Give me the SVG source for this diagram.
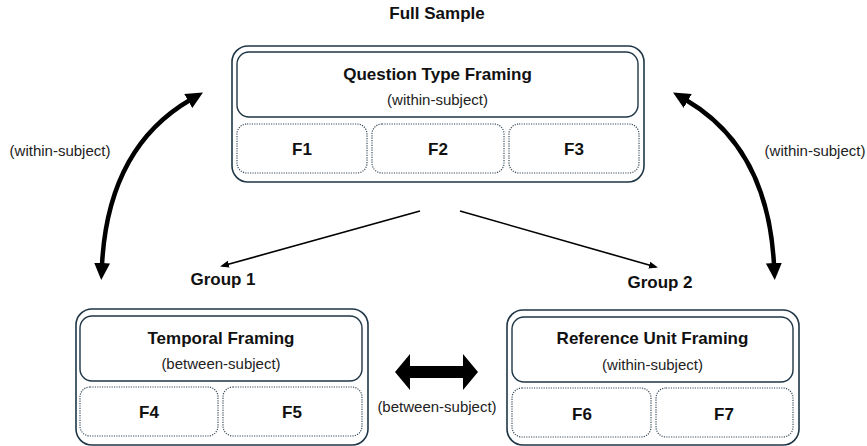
<svg xmlns="http://www.w3.org/2000/svg" width="867" height="446" viewBox="0 0 867 446">
<defs>
<style>
.outer{fill:#fff;stroke:#1f3646;stroke-width:1.6}
.inner{fill:#fff;stroke:#1f3646;stroke-width:1.4}
.dot{fill:#fff;stroke:#3b4d5a;stroke-width:1.2;stroke-dasharray:1.2 1.2}
.t{font-family:"Liberation Sans",Arial,sans-serif;font-weight:bold;font-size:17px;fill:#111;text-anchor:middle}
.s{font-family:"Liberation Sans",Arial,sans-serif;font-size:15px;fill:#222;text-anchor:middle}
.curve{fill:none;stroke:#000;stroke-width:4.5}
.thin{fill:none;stroke:#000;stroke-width:1.6}
</style>
<marker id="big" markerUnits="userSpaceOnUse" markerWidth="20" markerHeight="18" refX="2" refY="8" orient="auto-start-reverse" viewBox="0 0 20 18">
<path d="M0,0 L17,8 L0,16 z" fill="#000"/>
</marker>
<marker id="small" markerUnits="userSpaceOnUse" markerWidth="10" markerHeight="8" refX="7" refY="4" orient="auto" viewBox="0 0 10 8">
<path d="M0,0.5 L9,4 L0,7.5 z" fill="#000"/>
</marker>
</defs>
<rect width="867" height="446" fill="#fff"/>
<text class="t" x="437" y="19">Full Sample</text>

<g id="question-type">
<rect class="outer" x="232" y="46" width="412" height="136" rx="16"/>
<rect class="inner" x="237" y="52" width="401" height="65" rx="12"/>
<text class="t" x="437.5" y="80">Question Type Framing</text>
<text class="s" x="437.5" y="105">(within-subject)</text>
<rect class="dot" x="237" y="124" width="130" height="49" rx="10"/>
<rect class="dot" x="372" y="124" width="132" height="49" rx="10"/>
<rect class="dot" x="509" y="124" width="130" height="49" rx="10"/>
<text class="t" x="302" y="155">F1</text>
<text class="t" x="438" y="155">F2</text>
<text class="t" x="574" y="155">F3</text>
</g>

<g id="temporal">
<rect class="outer" x="76" y="309" width="292" height="136" rx="16"/>
<rect class="inner" x="80" y="316" width="282" height="65" rx="12"/>
<text class="t" x="221" y="344">Temporal Framing</text>
<text class="s" x="221" y="369">(between-subject)</text>
<rect class="dot" x="80" y="387" width="138" height="49" rx="10"/>
<rect class="dot" x="223" y="387" width="139" height="49" rx="10"/>
<text class="t" x="149" y="418">F4</text>
<text class="t" x="292" y="418">F5</text>
</g>

<g id="reference-unit">
<rect class="outer" x="507" y="310" width="292" height="135" rx="16"/>
<rect class="inner" x="512" y="317" width="281" height="65" rx="12"/>
<text class="t" x="652.5" y="344">Reference Unit Framing</text>
<text class="s" x="652.5" y="370">(within-subject)</text>
<rect class="dot" x="512" y="388" width="139" height="49" rx="10"/>
<rect class="dot" x="656" y="388" width="137" height="49" rx="10"/>
<text class="t" x="582" y="420">F6</text>
<text class="t" x="724" y="420">F7</text>
</g>

<g id="group1"><text class="t" x="223" y="285">Group 1</text></g>
<g id="group2"><text class="t" x="660" y="288">Group 2</text></g>

<g id="connectors">
<path class="curve" d="M102,265 Q108,148 190,100" marker-start="url(#big)" marker-end="url(#big)"/>
<path class="curve" d="M774,265 Q768,148 686,100" marker-start="url(#big)" marker-end="url(#big)"/>
<path class="thin" d="M420,211 L222,266" marker-end="url(#small)"/>
<path class="thin" d="M460,211 L656,267" marker-end="url(#small)"/>
<polygon points="395,372 410,354 410,366 463,366 463,354 478,372 463,390 463,378 410,378 410,390" fill="#000"/>
<text class="s" x="60" y="156">(within-subject)</text>
<text class="s" x="815" y="156">(within-subject)</text>
<text class="s" x="437" y="412">(between-subject)</text>
</g>
</svg>
